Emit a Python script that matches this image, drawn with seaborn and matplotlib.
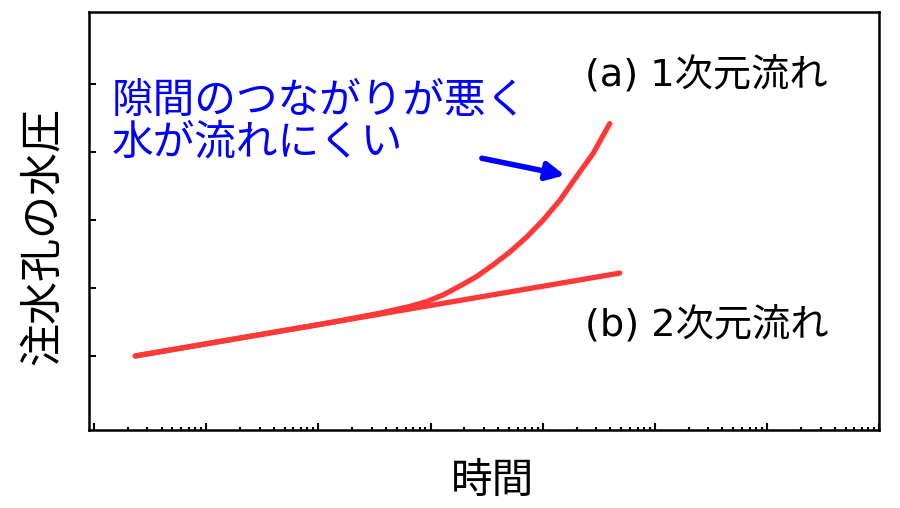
import pandas as pd
import seaborn as sns
import matplotlib.pyplot as plt
from matplotlib.ticker import LogLocator, NullFormatter, FixedLocator

# curve (a): 1D flow, bends upward at late time
time_a = [0.233, 12.7, 35.4, 65.6, 92.3, 130, 183, 258, 361, 509, 718,
          1009, 1420, 2000, 2812, 3956]
head_a = [0.0, 0.49, 0.63, 0.73, 0.80, 0.90, 1.03, 1.17, 1.34, 1.53, 1.75,
          2.00, 2.29, 2.64, 2.98, 3.42]

# curve (b): 2D flow, straight on log time
time_b = [0.233, 4860]
head_b = [0.0, 1.22]

y_ticks = [0, 1, 2, 3, 4]

label_a = "(a) 1次元流れ"
label_b = "(b) 2次元流れ"
note = "隙間のつながりが悪く\n水が流れにくい"
arrow_tail = (287, 2.91)
arrow_tip = (1574, 2.66)

df_a = pd.DataFrame({"time": time_a, "head": head_a})
df_b = pd.DataFrame({"time": time_b, "head": head_b})

sns.set_theme(style="white")
plt.rcParams['font.family'] = ['Noto Sans CJK JP', 'DejaVu Sans']
plt.rcParams['text.color'] = 'black'
plt.rcParams['axes.labelcolor'] = 'black'

fig = plt.figure(figsize=(9, 5.08), dpi=100)
ax = fig.add_axes([0.099, 0.1535, 0.878, 0.8225])

red = "#ff3838"
sns.lineplot(x="time", y="head", data=df_b, color=red, lw=3.8, sort=False,
             estimator=None, ax=ax)
sns.lineplot(x="time", y="head", data=df_a, color=red, lw=3.8, sort=False,
             estimator=None, ax=ax)

ax.set_xscale('log')
ax.set_xlim(0.0905, 1e6)
ax.set_ylim(-1.09, 5.06)
ax.yaxis.set_major_locator(FixedLocator(y_ticks))
ax.xaxis.set_major_locator(LogLocator(base=10, numticks=20))
ax.xaxis.set_minor_locator(LogLocator(base=10, subs=range(2, 10), numticks=20))
ax.xaxis.set_major_formatter(NullFormatter())
ax.xaxis.set_minor_formatter(NullFormatter())
ax.yaxis.set_major_formatter(NullFormatter())
ax.tick_params(axis='both', which='major', direction='in', length=5, width=1.5,
               colors='black', bottom=True, left=True)
ax.tick_params(axis='x', which='minor', direction='in', length=2.5, width=1.5,
               colors='black', bottom=True)
for s in ax.spines.values():
    s.set_color('black')
    s.set_linewidth(1.8)

ax.set_xlabel("時間", fontsize=30, va='center')
ax.set_ylabel("注水孔の水圧", fontsize=31, va='center')
ax.xaxis.set_label_coords(0.51, -0.124)
ax.yaxis.set_label_coords(-0.058, 0.464)

latin_first = ['DejaVu Sans', 'Noto Sans CJK JP']
ax.text(0.628, 0.849, label_a, transform=ax.transAxes, fontsize=27.5,
        va='center', ha='left', family=latin_first)
ax.text(0.628, 0.249, label_b, transform=ax.transAxes, fontsize=27.5,
        va='center', ha='left', family=latin_first)
ax.text(0.029, 0.835, note, transform=ax.transAxes, fontsize=30, color='#0000ff',
        va='top', ha='left', linespacing=1.0)

ax.annotate("", xy=arrow_tip, xytext=arrow_tail,
            arrowprops=dict(arrowstyle="-|>,head_length=0.9,head_width=0.45",
                            color='#0000ff', lw=4, shrinkA=0, shrinkB=0))

fig.savefig("out.png", dpi=100)
